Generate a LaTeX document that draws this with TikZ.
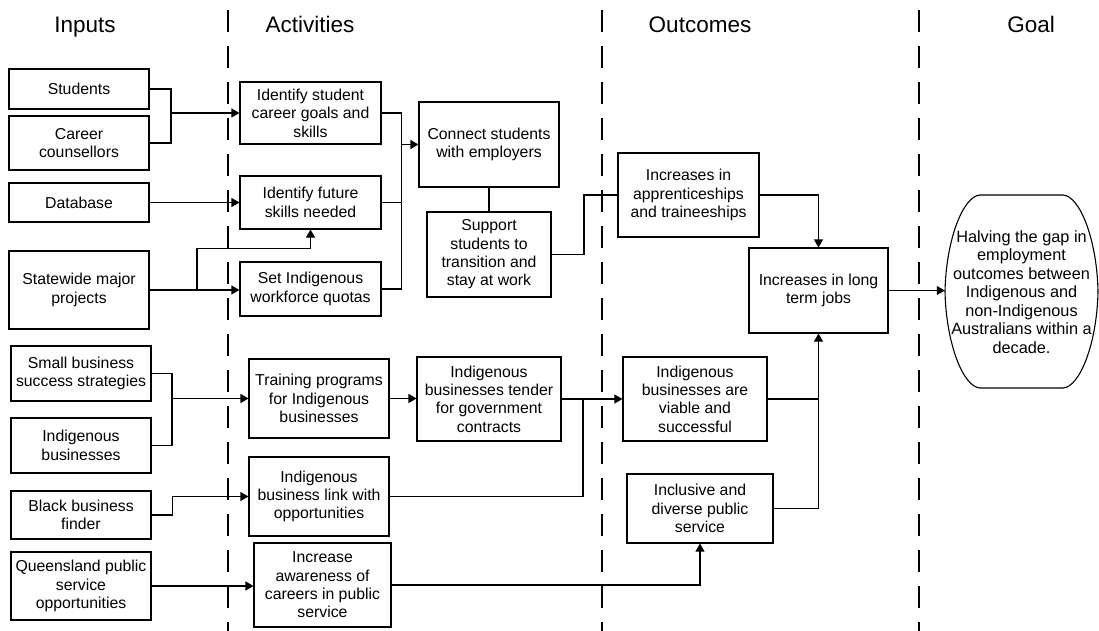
\documentclass[tikz,border=0pt]{standalone}
\usepackage{fontspec}
\setmainfont{Liberation Sans}
\usetikzlibrary{arrows.meta}
\newcommand\bx[6]{\node[boxs, minimum width={#4-#2}, minimum height={#5-#3}] (#1) at ({(#2+#4)/2},{(#3+#5)/2}) {#6};}
\tikzset{
  boxs/.style={draw, line width=1.1pt, inner sep=0pt, align=center, font=\fontsize{15.8}{18.4}\selectfont},
  head/.style={font=\fontsize{22.5}{26}\selectfont, anchor=base},
  conn/.style={line width=1.1pt},
  arr/.style={conn, -{Triangle[length=8pt,width=9pt]}},
  dashline/.style={line width=1.3pt, dash pattern=on 22pt off 14pt},
}
\begin{document}
\begin{tikzpicture}[x=1pt,y=-1pt]
\useasboundingbox (0,0) rectangle (1099,631);
% headers
\node[head] (hin) at (85,33) {Inputs};
\node[head] (hact) at (310,33) {Activities};
\node[head] (hout) at (700,33) {Outcomes};
\node[head] (hgoal) at (1031,33) {Goal};
% dashed separators
\draw[dashline] (228,10) -- (228,631);
\draw[dashline] (602,10) -- (602,631);
\draw[dashline] (919,10) -- (919,631);
% inputs
\bx{students}{9}{69}{149}{109}{Students}
\bx{career}{9}{116}{149}{170}{Career\\counsellors}
\bx{database}{9}{183}{149}{222}{Database}
\bx{statewide}{9}{251}{149}{329}{Statewide major\\projects}
\bx{smallbiz}{11}{346}{151}{401}{Small business\\success strategies}
\bx{indbiz}{11}{418}{151}{473}{Indigenous\\businesses}
\bx{bbf}{11}{491}{151}{539}{Black business\\finder}
\bx{qld}{11}{552}{151}{620}{Queensland public\\service\\opportunities}
% activities
\bx{idstudent}{240}{82}{381}{144}{Identify student\\career goals and\\skills}
\bx{idfuture}{240}{176}{381}{229}{Identify future\\skills needed}
\bx{setind}{240}{262}{381}{316}{Set Indigenous\\workforce quotas}
\bx{training}{249}{359}{389}{438}{Training programs\\for Indigenous\\businesses}
\bx{link}{249}{457}{389}{536}{Indigenous\\business link with\\opportunities}
\bx{incaware}{254}{543}{391}{627}{Increase\\awareness of\\careers in public\\service}
\bx{connect}{419}{102}{559}{187}{Connect students\\with employers}
\bx{support}{427}{212}{551}{297}{Support\\students to\\transition and\\stay at work}
\bx{tender}{417}{357}{561}{441}{Indigenous\\businesses tender\\for government\\contracts}
% outcomes
\bx{appr}{618}{153}{759}{237}{Increases in\\apprenticeships\\and traineeships}
\bx{longterm}{749}{248}{888}{333}{Increases in long\\term jobs}
\bx{viable}{623}{357}{767}{441}{Indigenous\\businesses are\\viable and\\successful}
\bx{inclusive}{627}{474}{773}{543}{Inclusive and\\diverse public\\service}
% goal
\node[inner sep=0pt, minimum width=153, minimum height=193, align=center,
      font=\fontsize{16.3}{18.5}\selectfont] (goal) at (1021.5,292)
  {Halving the gap in\\employment\\outcomes between\\Indigenous and\\non-Indigenous\\Australians within a\\decade.};
\draw[line width=1.1pt] (980,195) -- (1063,195)
  .. controls (1080,196) and (1097,240) .. (1098,291.5)
  .. controls (1097,343) and (1080,387) .. (1063,388)
  -- (980,388)
  .. controls (963,387) and (946,343) .. (945,291.5)
  .. controls (946,240) and (963,196) .. (980,195) -- cycle;
% connectors: inputs -> activities
\coordinate (j1) at (171,113);
\draw[conn] (students.east) -| (j1) |- (career.east);
\draw[arr] (j1) -- (idstudent.west);
\draw[arr] (database.east) -- (idfuture.west);
\draw[arr] (statewide.east) -- (statewide.east -| setind.west);
\coordinate (j2) at (197,290);
\draw[arr] (j2) |- ([yshift=-19pt]idfuture.south) -- (idfuture.south);
\coordinate (j10) at (172,398.5);
\draw[conn] (smallbiz.east) -| (j10) |- (indbiz.east);
\draw[arr] (j10) -- (training.west);
\draw[arr] (bbf.east) -- ++(21,0) |- (link.west);
\draw[arr] (qld.east) -- (qld.east -| incaware.west);
% activities -> connect
\coordinate (j3) at (401,144.5);
\draw[conn] (idstudent.east) -- ++(20,0) |- (setind.east);
\draw[conn] (idfuture.east) -- ++(20,0);
\draw[arr] (j3) -- (connect.west);
\draw[conn] (connect.south) -- (support.north);
\coordinate (k6) at (584,195);
\draw[conn] (support.east) -| (k6) -- (appr.west);
% business chain
\draw[arr] (training.east) -- (training.east -| tender.west);
\draw[arr] (tender.east) -- (viable.west);
\coordinate (j12) at (583,399);
\draw[conn] (link.east) -| (j12);
% outcomes -> long term
\draw[arr] (appr.east) -| (longterm.north);
\draw[conn] (viable.east) -- (viable.east -| longterm.south);
\draw[arr] (inclusive.east) -| (longterm.south);
\draw[arr] (incaware.east) -| (inclusive.south);
% goal
\draw[arr] (longterm.east) -- (longterm.east -| goal.west);
\end{tikzpicture}
\end{document}
